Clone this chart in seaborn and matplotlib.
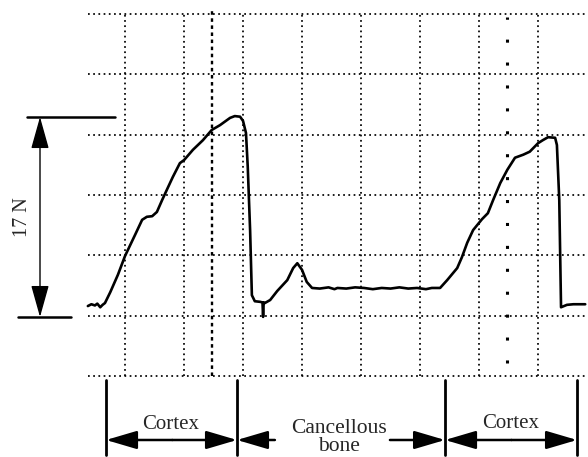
import seaborn as sns
import matplotlib.pyplot as plt
import pandas as pd
import numpy as np

sns.set_style("white")
plt.rcParams['font.family'] = ['Liberation Serif', 'DejaVu Serif']

# force trace, x in grid divisions, y in grid divisions
trace_x = [0.37, 0.43, 0.49, 0.53, 0.58, 0.62, 0.66, 0.75, 0.88, 1.00, 1.17, 1.29, 1.37,
           1.46, 1.54, 1.63, 1.71, 1.81, 1.93, 2.00, 2.15, 2.32, 2.47, 2.61, 2.78, 2.86,
           2.95, 3.00, 3.05, 3.08, 3.12, 3.15, 3.20, 3.29, 3.33, 3.34, 3.35, 3.37, 3.46,
           3.58, 3.75, 3.85, 3.92, 4.00, 4.08, 4.17, 4.30, 4.45, 4.55, 4.60, 4.75, 4.90,
           5.05, 5.20, 5.35, 5.50, 5.65, 5.80, 5.95, 6.10, 6.20, 6.34, 6.46, 6.63, 6.71,
           6.80, 6.90, 7.05, 7.15, 7.24, 7.36, 7.48, 7.61, 7.75, 7.86, 8.00, 8.08, 8.17,
           8.29, 8.32, 8.36, 8.39, 8.49, 8.60, 8.80]
trace_y = [1.16, 1.19, 1.17, 1.20, 1.14, 1.18, 1.21, 1.39, 1.68, 1.99, 2.34, 2.59, 2.64,
           2.65, 2.72, 2.92, 3.09, 3.30, 3.53, 3.58, 3.75, 3.91, 4.08, 4.16, 4.28, 4.31,
           4.30, 4.23, 4.03, 3.47, 2.42, 1.34, 1.24, 1.23, 1.22, 0.98, 1.22, 1.21, 1.26,
           1.41, 1.59, 1.79, 1.87, 1.76, 1.56, 1.46, 1.45, 1.47, 1.44, 1.46, 1.45, 1.47,
           1.46, 1.44, 1.46, 1.45, 1.47, 1.45, 1.46, 1.44, 1.46, 1.46, 1.59, 1.79, 1.97,
           2.21, 2.42, 2.60, 2.70, 2.92, 3.20, 3.42, 3.62, 3.67, 3.72, 3.86, 3.91, 3.96,
           3.95, 3.83, 2.92, 1.14, 1.18, 1.19, 1.19]

grid_x = [1, 2, 3, 4, 5, 6, 7, 8]
grid_y = [0, 1, 2, 3, 4, 5, 6]
regions = ["Cortex", "Cancellous\nbone", "Cortex"]
force_label = "17 N"

fig = plt.figure(figsize=(5.88, 4.57), dpi=100)
ax = fig.add_axes([0, 0, 1, 1])
ax.set_xlim(-1.119, 8.847)
ax.set_ylim(-1.343, 6.235)
ax.axis("off")

dot = (0, (1, 2))
for gy in grid_y:
    ax.plot([0.37, 8.85], [gy, gy], color="k", lw=1.25, ls=dot)
for gx in grid_x:
    ax.plot([gx, gx], [0, 6], color="k", lw=1.25, ls=dot)
ax.plot([2.47, 2.47], [0, 6.05], color="k", lw=1.7, ls=(0, (1.5, 1.5)))
ax.plot([7.47, 7.47], [0.22, 5.95], color="k", lw=2.2, ls=(0, (1, 6.5)))

df = pd.DataFrame({"x": trace_x, "y": trace_y})
sns.lineplot(data=df, x="x", y="y", ax=ax, color="k", lw=1.9, sort=False,
             estimator=None)

# 17 N scale
ax.plot([-0.66, 0.83], [4.295, 4.295], color="k", lw=1.8)
ax.plot([-0.81, 0.09], [0.978, 0.978], color="k", lw=1.8)
ax.annotate("", xy=(-0.441, 4.295), xytext=(-0.441, 0.978),
            arrowprops=dict(arrowstyle="<|-|>,head_length=1.0,head_width=0.28",
                            mutation_scale=20, lw=1.0, color="k",
                            shrinkA=0, shrinkB=0))
ax.text(-0.74, 2.64, force_label, rotation=90, ha="center", va="center", fontsize=14.5)

# region markers below
bars = [0.678, 2.898, 6.424, 8.661]
for bx in bars:
    ax.plot([bx, bx], [-0.07, -1.31], color="k", lw=2.0)
arr_y = -1.061
style = "-|>,head_length=0.95,head_width=0.28"
def arrow(tip, tail):
    ax.annotate("", xy=(tip, arr_y), xytext=(tail, arr_y),
                arrowprops=dict(arrowstyle=style, mutation_scale=20, lw=1.8,
                                color="k", shrinkA=0, shrinkB=0))
arrow(bars[0], 1.80)
arrow(bars[1], 1.80)
arrow(bars[1], 3.54)
arrow(bars[2], 5.49)
arrow(bars[2], 7.55)
arrow(bars[3], 7.55)
ax.text(1.78, -0.81, regions[0], ha="center", va="center", fontsize=15)
ax.text(4.62, -1.02, regions[1], ha="center", va="center", fontsize=15.5,
        linespacing=0.92)
ax.text(7.53, -0.79, regions[2], ha="center", va="center", fontsize=15)

plt.savefig("out.png", dpi=100)
